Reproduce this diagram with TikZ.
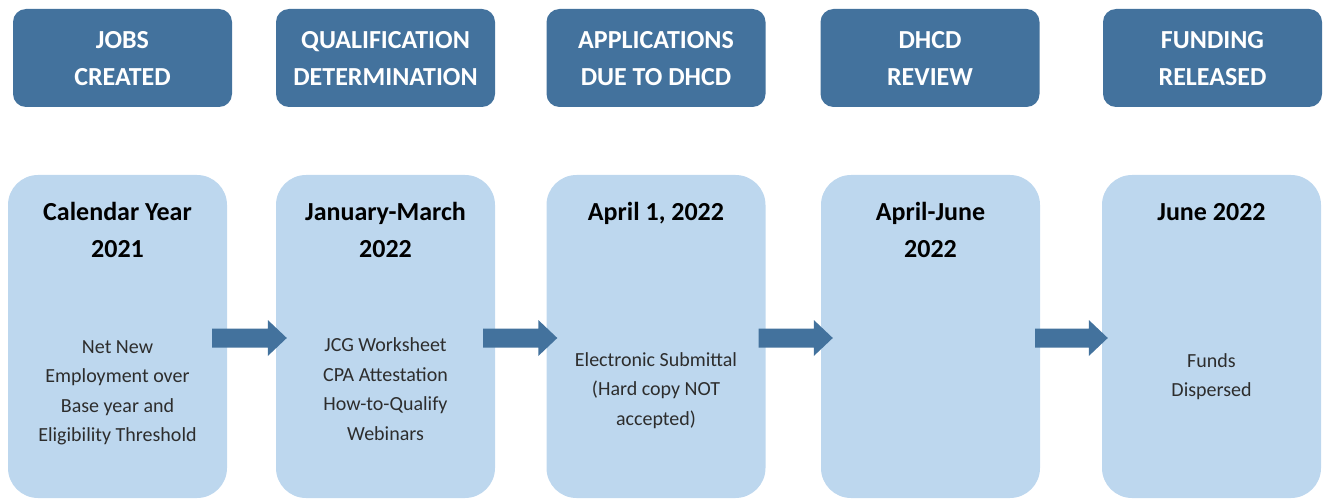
\documentclass[tikz,border=0pt]{standalone}
\usepackage{fontspec}
\setmainfont{Carlito}
\usetikzlibrary{calc}
\definecolor{hdr}{RGB}{67,114,157}
\definecolor{lbox}{RGB}{189,215,238}
\definecolor{arr}{RGB}{67,114,157}
\definecolor{bodytxt}{RGB}{45,45,45}
\tikzset{
  hdrbox/.style={fill=hdr, rounded corners=13pt, minimum width=219pt, minimum height=98pt, inner sep=0pt},
  lowbox/.style={fill=lbox, rounded corners=30pt, minimum width=219pt, minimum height=323pt, inner sep=0pt},
  hdrtxt/.style={text=white, align=center, anchor=base, inner sep=0pt, font=\fontsize{26}{37}\selectfont\bfseries},
  titletxt/.style={text=black, align=center, anchor=base, inner sep=0pt, font=\fontsize{26}{37}\selectfont\bfseries},
  bodytext/.style={text=bodytxt, align=center, anchor=base, inner sep=0pt, font=\fontsize{20}{29.5}\selectfont},
}
\begin{document}
\begin{tikzpicture}[x=1pt,y=-1pt]
\useasboundingbox (0,0) rectangle (1323,500);
% header boxes
\node[hdrbox] (h1) at (122.5,58) {};
\node[hdrbox] (h2) at (385.5,58) {};
\node[hdrbox] (h3) at (656,58) {};
\node[hdrbox] (h4) at (930,58) {};
\node[hdrbox] (h5) at (1212.5,58) {};
% header texts (anchor base = last line baseline)
\node[hdrtxt] (ht1) at (122.5,85.4) {JOBS\\CREATED};
\node[hdrtxt] (ht2) at (385.5,85.4) {QUALIFICATION\\DETERMINATION};
\node[hdrtxt] (ht3) at (656,85.4) {APPLICATIONS\\DUE TO DHCD};
\node[hdrtxt] (ht4) at (930,85.4) {DHCD\\REVIEW};
\node[hdrtxt] (ht5) at (1212.5,85.4) {FUNDING\\RELEASED};
% lower boxes
\node[lowbox] (b1) at (117.5,336.5) {};
\node[lowbox] (b2) at (385.5,336.5) {};
\node[lowbox] (b3) at (656,336.5) {};
\node[lowbox] (b4) at (930.5,336.5) {};
\node[lowbox] (b5) at (1211.5,336.5) {};
% titles
\node[titletxt] (t1) at (117.5,257.4) {Calendar Year\\2021};
\node[titletxt] (t2) at (385.5,257.4) {January-March\\2022};
\node[titletxt] (t3) at (656,220.4) {April 1, 2022};
\node[titletxt] (t4) at (930.5,257.4) {April-June\\2022};
\node[titletxt] (t5) at (1211.5,220.4) {June 2022};
% bodies
\node[bodytext] (d1) at (117.5,441.9) {Net New\\Employment over\\Base year and\\Eligibility Threshold};
\node[bodytext] (d2) at (385.5,440.4) {JCG Worksheet\\CPA Attestation\\How-to-Qualify\\Webinars};
\node[bodytext] (d3) at (656,425.4) {Electronic Submittal\\(Hard copy NOT\\accepted)};
\node[bodytext] (d5) at (1211.5,396.9) {Funds\\Dispersed};
% arrows
\foreach \a/\b/\ds/\dt in {b1/b2/-15/11, b2/b3/-12/11, b3/b4/-7/12, b4/b5/-5/6} {
  \path ([xshift=\ds pt, yshift=-1.5pt]\a.east) coordinate (s)
        ([xshift=\dt pt, yshift=-1.5pt]\b.west) coordinate (t);
  \fill[arr] ($(s)+(0,-9.5)$) -- ($(t)+(-19,-9.5)$) -- ($(t)+(-19,-18)$) -- (t)
     -- ($(t)+(-19,18)$) -- ($(t)+(-19,9.5)$) -- ($(s)+(0,9.5)$) -- cycle;
}
\end{tikzpicture}
\end{document}
